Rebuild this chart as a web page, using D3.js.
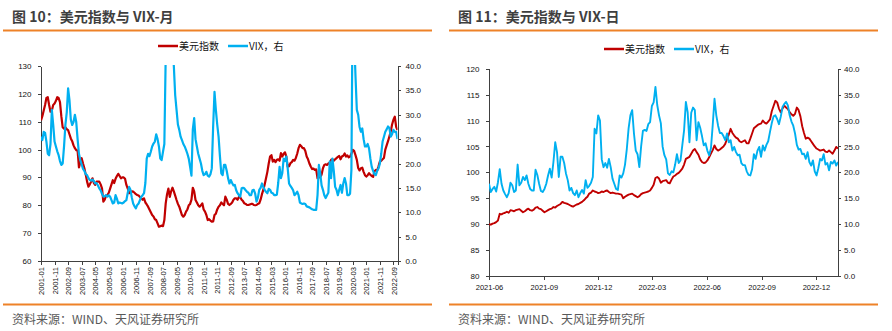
<!DOCTYPE html>
<html>
<head>
<meta charset="utf-8">
<script src="https://d3js.org/d3.v7.min.js"></script>
<style>
	body { margin:0; background:#fff; }
	svg text { font-family: "Liberation Sans", Arial, sans-serif; }
	.cn { font-family: "Noto Sans CJK SC", "Liberation Sans", sans-serif; }
	.axis path, .axis line { stroke:#404040; stroke-width:1; shape-rendering:crispEdges; }
	.axis text { fill:#111; font-size:8px; }
	.line { fill:none; stroke-width:2.2; stroke-linejoin:round; }
</style>
</head>
<body>
<svg id="chart" width="892" height="331"></svg>

<script>
// ---- monthly, 2001-01 .. 2022-12 ----
var dxyMonthly = [
	110.5, 112, 114, 116, 118.5, 118.8, 116, 113.6, 114, 116, 116.5, 117.5,
	118.8, 118.5, 117, 112, 108, 107.5, 108, 107.3, 107, 105.5, 104, 103,
	101.5, 100.5, 99.8, 99.6, 93.6, 95.5, 96.9, 95, 93.3, 91, 88.5, 86.7,
	87.5, 88.5, 89.7, 88, 87.3, 88.5, 88.5, 88.5, 87.5, 86.1, 81.3, 82,
	83.5, 83.7, 84.5, 86, 87.5, 89, 88, 89.5, 90.5, 91.3, 90.5, 89.7,
	90, 90, 89.5, 87.3, 86, 84.3, 84.8, 85, 84.9, 84.5, 84, 83.7,
	83.5, 83, 82.5, 82, 82.5, 81, 80.3, 79.5, 78.5, 77.5, 76.5, 76,
	75, 74.7, 73.5, 72.3, 72.5, 72.7, 72.5, 74.7, 80.7, 84, 86, 83,
	85, 86.3, 85, 83.5, 81.9, 80.5, 79.5, 78, 76.5, 75.9, 76.5, 77.7,
	78.5, 80, 80.5, 82, 86.3, 85, 81.9, 81, 80, 79.5, 80, 80.7,
	78.5, 77.7, 76.5, 74.7, 75, 74.5, 74.1, 74.2, 76.5, 77, 78.5, 79.5,
	80, 81, 80.5, 80, 83.1, 82, 80.5, 80.1, 80.5, 81, 82, 82.5,
	82.5, 82, 83, 82.9, 82, 81.5, 80.7, 80.5, 80.1, 80.1, 80.3, 80.5,
	80.5, 80.1, 80, 80.1, 80.5, 80.7, 82, 84, 85.5, 87.5, 89.7, 92,
	95, 97.5, 98, 95.7, 96.3, 95.5, 96.3, 96.5, 96, 98.7, 97.5, 98.5,
	99, 97.5, 93.9, 94, 95.1, 95.5, 96.3, 96, 97, 98.5, 100.5, 101.7,
	101.2, 100.5, 100.5, 99.5, 97.5, 96.5, 95, 93.9, 93, 93.2, 92.7, 92.9,
	89.7, 90, 90.2, 91, 93.3, 94.5, 94.7, 94.5, 95, 95.3, 96.3, 96.5,
	96, 96.5, 96.9, 97.4, 97.7, 96.5, 97.5, 97.8, 98.6, 97.5, 97.9, 97.2,
	97.5, 98.5, 99.9, 99.5, 98, 96.3, 93.4, 92.5, 93.3, 93.5, 92, 90.8,
	90.3, 90.8, 91.5, 91, 90.5, 90.2, 92.2, 92.7, 92.5, 94, 95.7, 96,
	96.5, 97, 100, 101.5, 103, 104.7, 106.5, 109, 110.7, 111.8, 108.2, 107
];
var vixMonthly = [
	25.5, 24.8, 26.5, 26.3, 24.5, 22, 21.7, 24, 31, 28, 24.5, 23.5,
	22.5, 21.7, 20.5, 19.7, 20, 23.5, 27.9, 30.5, 35.4, 33, 29, 27.9,
	28.5, 30, 28.5, 25, 22, 20.7, 19.8, 18.9, 18.5, 17.8, 17.6, 17,
	16.6, 16.5, 16.7, 16.4, 15.9, 16, 15.5, 14.9, 14.5, 13.8, 13.2, 13.3,
	13.5, 13.2, 13.5, 13.2, 12.5, 11.8, 12, 13.5, 12.8, 11.8, 12, 11.9,
	11.8, 12, 12.3, 12.5, 14, 15.2, 14.6, 13, 11.8, 11.2, 10.8, 11.5,
	11.8, 12.5, 13.2, 13.5, 13.9, 16, 21, 22, 21.5, 22.4, 23.5, 24.1,
	24.5, 26, 25, 23.5, 21, 20.7, 22.4, 24, 42, 62, 58, 52,
	46, 44, 40, 34, 31, 28, 26.9, 25.5, 24.8, 24, 23.5, 22.8,
	22, 21, 19.3, 17.5, 27, 29.3, 25, 23.5, 22, 21, 20, 18.5,
	17.6, 17.8, 18.3, 17.5, 17.3, 17.8, 19, 27.6, 34.7, 31, 28, 25.5,
	21.5, 18, 17.6, 19.7, 19.7, 18.5, 17, 15.9, 16.6, 16, 15.5, 15.6,
	14.5, 13.9, 13.5, 13.2, 14.9, 15, 14.9, 14.5, 14.2, 14, 13.5, 13.5,
	14.5, 14.6, 13.8, 12.2, 13, 14.6, 15, 15.9, 15.2, 14.6, 14.2, 13.9,
	14.8, 14.6, 14, 13.9, 13.5, 13.5, 13.6, 16, 19.3, 17, 18, 21,
	20.5, 21.4, 19, 15.9, 15.4, 15, 14.5, 13.5, 13.8, 14.2, 13.5, 12,
	11.8, 11.7, 11.8, 11.7, 11.2, 11.1, 11, 10.8, 10.6, 10.5, 10.5, 10.5,
	13.5, 19.7, 18, 15.5, 14.6, 13.5, 12.9, 13.5, 14, 20.4, 17, 21,
	18.5, 15.2, 14.6, 13.5, 14.6, 15.6, 14, 15.9, 17, 15.9, 13.5, 13.5,
	13.8, 18.7, 57, 46, 38, 31, 30, 27.5, 26.5, 27.2, 25, 23.5,
	23.5, 24, 23.1, 21, 19.3, 18.5, 17.8, 17.6, 18.5, 19, 20, 22,
	24.5, 25.5, 26.5, 27, 27.6, 27.3, 25.5, 26, 26.9, 26.5, 26.5, 25
];
var monthTicks = ["2001-01","2001-11","2002-09","2003-07","2004-05","2005-03","2006-01","2006-11",
	"2007-09","2008-07","2009-05","2010-03","2011-01","2011-11","2012-09","2013-07","2014-05",
	"2015-03","2016-01","2016-11","2017-09","2018-07","2019-05","2020-03","2021-01","2021-11","2022-09"];

// ---- daily, one reading every 3 days from 2021-06-01 ----
var dxyDaily = [
	90.0, 89.9, 90.1, 90.2, 90.4, 90.7, 92.0, 91.9, 92.1, 92.2, 92.4, 92.2, 92.7, 92.6, 92.5, 92.7,
	92.8, 92.9, 92.6, 92.3, 92.5, 92.8, 93.0, 92.7, 92.6, 92.8, 93.2, 93.3, 93.0, 92.9, 92.6, 92.3,
	92.5, 92.7, 92.9, 93.0, 93.3, 93.2, 93.5, 93.7, 93.9, 94.3, 94.1, 94.0, 93.9, 93.7, 93.5, 93.4,
	93.6, 93.8, 93.9, 94.1, 94.3, 94.6, 95.0, 95.3, 95.9, 96.1, 96.5, 96.3, 96.2, 96.0, 96.1, 96.3,
	96.2, 96.4, 96.5, 96.2, 96.0, 96.1, 96.0, 95.9, 95.9, 95.8, 95.7, 95.0, 95.3, 95.5, 95.7, 95.8,
	95.9, 95.6, 95.4, 95.2, 95.4, 95.8, 96.0, 96.1, 96.2, 96.3, 96.5, 97.0, 97.6, 98.9, 99.1, 98.8,
	98.0, 98.3, 98.4, 98.5, 98.0, 97.9, 98.6, 99.2, 99.4, 99.7, 99.9, 100.3, 100.7, 101.5, 102.6, 102.8,
	103.0, 103.6, 104.2, 104.5, 103.9, 103.4, 102.5, 102.0, 101.8, 101.9, 102.3, 102.9, 103.6, 104.3, 105.2, 104.5,
	104.2, 104.4, 104.7, 105.0, 105.5, 106.5, 107.3, 108.4, 107.6, 107.1, 106.7, 106.5, 106.0, 105.8, 106.0, 106.2,
	105.6, 105.6, 106.5, 107.5, 108.5, 108.8, 109.1, 109.3, 109.4, 110.0, 109.6, 109.4, 109.8, 110.2, 111.8, 112.8,
	113.8, 113.5, 112.3, 111.6, 112.3, 112.9, 112.5, 112.2, 111.6, 111.2, 110.9, 111.3, 112.5, 112.0, 110.8, 108.9,
	107.6, 106.5, 106.7, 106.5, 106.0, 105.5, 105.0, 104.6, 104.4, 104.2, 104.3, 104.4, 104.0, 103.9, 104.2, 103.9,
	103.6, 104.2, 104.9, 104.6
];
var vixDaily = [
	17.8, 16.2, 16.8, 17.2, 16.3, 18.1, 20.6, 17.8, 16.5, 15.8, 15.2, 16.0, 18.0, 17.5, 16.2, 16.5,
	21.5, 17.5, 18.0, 19.1, 18.5, 19.4, 17.8, 16.8, 16.5, 16.5, 20.5, 19.5, 17.8, 16.4, 16.2, 16.8,
	17.8, 19.4, 20.7, 19.0, 22.0, 25.8, 23.9, 19.1, 23.0, 23.0, 21.8, 19.8, 18.5, 16.5, 17.0, 16.0,
	15.6, 16.5, 15.2, 16.0, 16.6, 15.9, 18.5, 17.0, 17.4, 18.0, 19.1, 28.4, 27.5, 31.0, 30.0, 22.5,
	21.0, 21.8, 20.9, 22.6, 21.0, 18.8, 17.8, 16.8, 16.6, 19.4, 19.0, 19.8, 21.5, 24.5, 28.5, 31.0,
	32.0, 27.5, 24.2, 23.5, 21.0, 25.0, 28.0, 28.2, 28.0, 29.3, 29.7, 32.8, 33.5, 36.5, 33.0, 31.0,
	29.5, 25.0, 23.3, 22.5, 19.8, 19.5, 20.2, 20.0, 21.5, 23.5, 21.8, 22.3, 25.2, 28.1, 33.6, 31.6,
	25.8, 31.5, 32.5, 32.0, 26.2, 29.7, 28.6, 27.0, 25.2, 25.6, 24.2, 23.3, 24.6, 29.1, 34.2, 31.0,
	29.0, 27.6, 27.6, 27.0, 26.2, 27.5, 25.8, 26.2, 24.2, 24.9, 23.9, 23.3, 23.4, 21.8, 21.4, 21.4,
	20.2, 19.5, 19.4, 20.6, 23.5, 22.6, 24.2, 24.9, 23.0, 25.2, 24.2, 25.3, 26.0, 27.8, 29.5, 30.8,
	31.0, 30.3, 29.3, 30.7, 32.6, 33.2, 33.6, 32.9, 31.0, 29.8, 29.0, 27.5, 25.3, 24.4, 24.5, 23.5,
	23.6, 22.6, 23.9, 22.0, 21.3, 22.3, 20.2, 19.4, 20.8, 22.6, 22.3, 23.5, 21.5, 21.8, 20.4, 22.0,
	21.7, 22.3, 21.3, 22.0
];
var dayTicks = ["2021-06","2021-09","2021-12","2022-03","2022-06","2022-09","2022-12"];

var RED = "#c00000", BLUE = "#00b0f0", ORANGE = "#ee8228";

var svg = d3.select("#chart");

// frame: title, orange rules, legend and source note
function frame(ox, titleText, legendY, legendX) {
	svg.append("text").attr("class", "cn")
		.attr("x", ox + 12).attr("y", 22)
		.style("font-size", "14px").style("font-weight", "bold").attr("fill", "#3f3f3f")
		.text(titleText);
	svg.append("line").attr("x1", ox + 3).attr("x2", ox + 432).attr("y1", 30.5).attr("y2", 30.5)
		.attr("stroke", ORANGE).attr("stroke-width", 2);
	svg.append("line").attr("x1", ox + 3).attr("x2", ox + 432).attr("y1", 304.5).attr("y2", 304.5)
		.attr("stroke", ORANGE).attr("stroke-width", 2);
	svg.append("text").attr("class", "cn")
		.attr("x", ox + 12).attr("y", 324)
		.style("font-size", "12px").attr("fill", "#595959")
		.text("资料来源：WIND、天风证券研究所");

	var items = [{name:"美元指数", color:RED, x:legendX}, {name:"VIX，右", color:BLUE, x:legendX + 70}];
	var lg = svg.append("g").selectAll("g").data(items).enter().append("g")
		.attr("transform", function(d) { return "translate(" + d.x + "," + legendY + ")"; });
	lg.append("line").attr("x1", 0).attr("x2", 20).attr("stroke", function(d) { return d.color; }).attr("stroke-width", 2.5);
	lg.append("text").attr("class", "cn").attr("x", 21).attr("dy", "0.36em")
		.style("font-size", "10px").attr("fill", "#111")
		.text(function(d) { return d.name; });
}

frame(0, "图 10：美元指数与 VIX-月", 46, 158);
frame(446, "图 11：美元指数与 VIX-日", 49, 604);

// ---------------- monthly panel ----------------
var L = {x0:41, x1:397.5, top:66, bottom:261};
var xm = d3.scaleLinear().domain([0, dxyMonthly.length - 1]).range([L.x0, L.x1]);
var ymL = d3.scaleLinear().domain([60, 130]).range([L.bottom, L.top]);
var ymR = d3.scaleLinear().domain([0, 40]).range([L.bottom, L.top]);

svg.append("clipPath").attr("id", "clipL").append("rect")
	.attr("x", L.x0).attr("y", L.top - 1).attr("width", L.x1 - L.x0).attr("height", L.bottom - L.top + 1);

function monthIndex(s) {
	var p = s.split("-");
	return (+p[0] - 2001) * 12 + (+p[1] - 1);
}

svg.append("g").attr("class", "axis").attr("transform", "translate(0," + L.bottom + ")")
	.call(d3.axisBottom(xm).tickValues(monthTicks.map(monthIndex)).tickSizeOuter(0).tickSize(3.5)
		.tickFormat(function(d) { return monthTicks[monthTicks.map(monthIndex).indexOf(d)]; }))
	.selectAll("text")
		.attr("transform", "rotate(-90)")
		.attr("text-anchor", "end")
		.attr("x", -6).attr("y", 0).attr("dy", "0.35em")
		.style("font-size", "7.6px");

svg.append("g").attr("class", "axis").attr("transform", "translate(" + L.x0 + ",0)")
	.call(d3.axisLeft(ymL).tickValues(d3.range(60, 131, 10)).tickSize(3.5).tickPadding(6).tickSizeOuter(0));

svg.append("g").attr("class", "axis").attr("transform", "translate(" + L.x1 + ",0)")
	.call(d3.axisRight(ymR).tickValues(d3.range(0, 41, 5)).tickFormat(d3.format(".1f"))
		.tickSize(3.5).tickPadding(4.5).tickSizeOuter(0));

var plotL = svg.append("g").attr("clip-path", "url(#clipL)");
plotL.append("path").attr("class", "line").attr("stroke", RED)
	.attr("d", d3.line().x(function(d, i) { return xm(i); }).y(function(d) { return ymL(d); })(dxyMonthly));
plotL.append("path").attr("class", "line").attr("stroke", BLUE)
	.attr("d", d3.line().x(function(d, i) { return xm(i); }).y(function(d) { return ymR(d); })(vixMonthly));

// ---------------- daily panel ----------------
var R = {x0:489, x1:838, top:68.7, bottom:276};
var dayStart = new Date(2021, 5, 1);
var dayDates = d3.timeDay.range(dayStart, new Date(2021, 5, 1 + 3 * dxyDaily.length), 3);

var xd = d3.scaleTime().domain([dayStart, new Date(2023, 0, 7)]).range([R.x0, R.x1]);
var ydL = d3.scaleLinear().domain([80, 120]).range([R.bottom, R.top]);
var ydR = d3.scaleLinear().domain([0, 40]).range([R.bottom, R.top]);
var parseMonth = d3.timeParse("%Y-%m");

svg.append("g").attr("class", "axis").attr("transform", "translate(0," + R.bottom + ")")
	.call(d3.axisBottom(xd).tickValues(dayTicks.map(parseMonth)).tickFormat(d3.timeFormat("%Y-%m"))
		.tickSize(3.5).tickPadding(5.5).tickSizeOuter(0))
	.selectAll("text").style("font-size", "7.5px");

svg.append("g").attr("class", "axis").attr("transform", "translate(" + R.x0 + ",0)")
	.call(d3.axisLeft(ydL).tickValues(d3.range(80, 121, 5)).tickSize(3.5).tickPadding(6).tickSizeOuter(0));

svg.append("g").attr("class", "axis").attr("transform", "translate(" + R.x1 + ",0)")
	.call(d3.axisRight(ydR).tickValues(d3.range(0, 41, 5)).tickFormat(d3.format(".1f"))
		.tickSize(3).tickPadding(3).tickSizeOuter(0));

svg.append("clipPath").attr("id", "clipR").append("rect")
	.attr("x", R.x0).attr("y", R.top - 1).attr("width", R.x1 - R.x0).attr("height", R.bottom - R.top + 1);

var plotR = svg.append("g").attr("clip-path", "url(#clipR)");
plotR.append("path").attr("class", "line").attr("stroke", RED).style("stroke-width", 1.9)
	.attr("d", d3.line().x(function(d, i) { return xd(dayDates[i]); }).y(function(d) { return ydL(d); })(dxyDaily));
plotR.append("path").attr("class", "line").attr("stroke", BLUE).style("stroke-width", 1.9)
	.attr("d", d3.line().x(function(d, i) { return xd(dayDates[i]); }).y(function(d) { return ydR(d); })(vixDaily));
</script>
</body>
</html>
